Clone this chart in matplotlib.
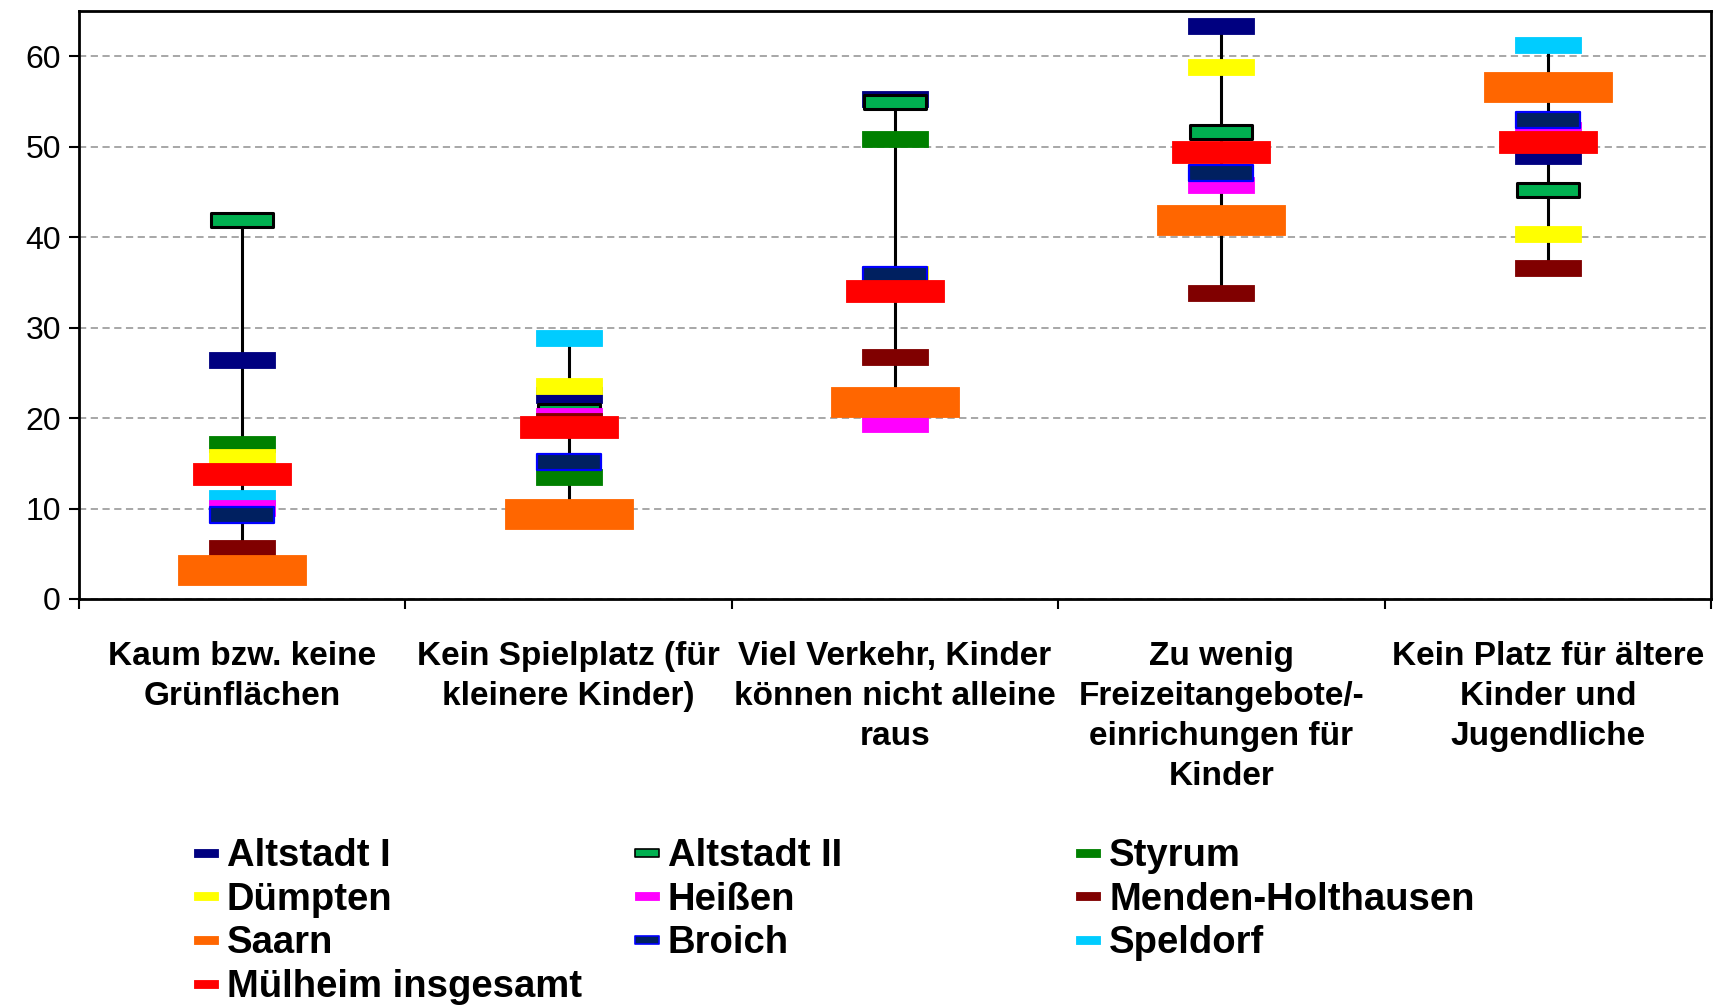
import matplotlib
matplotlib.use("Agg")
import matplotlib.pyplot as plt
import numpy as np
from matplotlib.path import Path
from matplotlib.lines import Line2D

plt.rcParams['font.family'] = ['Liberation Sans', 'DejaVu Sans']

categories = [
    "Kaum bzw. keine\nGrünflächen",
    "Kein Spielplatz (für\nkleinere Kinder)",
    "Viel Verkehr, Kinder\nkönnen nicht alleine\nraus",
    "Zu wenig\nFreizeitangebote/-\neinrichungen für\nKinder",
    "Kein Platz für ältere\nKinder und\nJugendliche",
]

series_names = ["Altstadt I", "Altstadt II", "Styrum", "Dümpten", "Heißen",
                "Menden-Holthausen", "Saarn", "Broich", "Speldorf", "Mülheim insgesamt"]

altstadt_1 = [26.4, 22.5, 55.3, 63.3, 49.0]
altstadt_2 = [41.9, 20.8, 54.9, 51.6, 45.2]
styrum     = [17.1, 13.5, 50.9, 49.3, 50.8]
duempten   = [15.7, 23.5, 35.9, 58.8, 40.4]
heissen    = [10.1, 20.2, 19.4, 45.8, 51.9]
menden     = [5.6, 19.7, 26.8, 33.8, 36.6]
saarn      = [3.2, 9.35, 21.8, 41.9, 56.6]
broich     = [9.3, 15.1, 35.8, 47.1, 52.9]
speldorf   = [11.2, 28.9, 34.2, 49.6, 61.3]
muelheim   = [13.8, 19.05, 34.0, 49.4, 50.5]

yticks = [0, 10, 20, 30, 40, 50, 60]

all_values = [altstadt_1, altstadt_2, styrum, duempten, heissen,
              menden, saarn, broich, speldorf, muelheim]

# styles: (face, edge, edge width, marker width in pt, zorder)
styles = [
    ("#000080", "#000080", 0.6, 47, 3),
    ("#00B050", "#000000", 2.2, 45, 4),
    ("#008000", "#008000", 0.6, 47, 5),
    ("#FFFF00", "#FFFF00", 0.6, 47, 6),
    ("#FF00FF", "#FF00FF", 0.6, 47, 8),
    ("#800000", "#800000", 0.6, 47, 9),
    ("#FF6600", "#FF6600", 0.6, 92, 10),
    ("#002060", "#0000FF", 1.6, 46, 11),
    ("#00CCFF", "#00CCFF", 0.6, 47, 7),
    ("#FF0000", "#FF0000", 0.6, 70, 12),
]

def rect_marker(aspect):
    a = aspect / 2.0
    verts = [(-0.5, -a), (0.5, -a), (0.5, a), (-0.5, a), (-0.5, -a)]
    codes = [Path.MOVETO, Path.LINETO, Path.LINETO, Path.LINETO, Path.CLOSEPOLY]
    return Path(verts, codes)

bar_marker = rect_marker(0.235)
leg_marker = rect_marker(0.3)

fig = plt.figure(figsize=(17.17, 10.05), dpi=100)
ax = fig.add_axes([0.046, 0.404, 0.9505, 0.585])

x = np.arange(len(categories))
data = np.array(all_values)
lows = data.min(axis=0)
highs = data.max(axis=0)
ax.vlines(x, lows, highs, color="black", linewidth=2.2, zorder=2)

for i, (name, vals) in enumerate(zip(series_names, all_values)):
    fc, ec, ew, ms, zo = styles[i]
    ax.plot(x, vals, linestyle="none", marker=bar_marker, markersize=ms,
            markerfacecolor=fc, markeredgecolor=ec, markeredgewidth=ew,
            zorder=zo, label=name)

ax.set_xlim(-0.5, len(categories) - 0.5)
ax.set_ylim(0, 65)
ax.set_yticks(yticks)
ax.set_yticklabels([str(t) for t in yticks], fontsize=23)
ax.set_xticks(np.arange(-0.5, len(categories), 1.0))
ax.set_xticklabels([])
ax.set_xticks(x, minor=True)
ax.set_xticklabels(categories, minor=True, fontsize=24, fontweight="bold",
                   linespacing=1.37, va="top")
ax.tick_params(axis="x", which="minor", length=0, pad=30.5)
ax.tick_params(axis="x", which="major", direction="out", length=7, width=1.5)
ax.tick_params(axis="y", direction="out", length=7, width=1.5, pad=6)

for sp in ax.spines.values():
    sp.set_linewidth(2)

ax.yaxis.grid(True, linestyle=(0, (4, 2.5)), color="#A0A0A0", linewidth=1.3)
ax.set_axisbelow(True)

# Legend in three columns (row-wise order as in the original)
cols = [[0, 3, 6, 9], [1, 4, 7], [2, 5, 8]]
col_x = [0.112, 0.369, 0.626]
for cidx, idxs in enumerate(cols):
    handles = []
    for i in idxs:
        fc, ec, ew, ms, zo = styles[i]
        handles.append(Line2D([], [], linestyle="none", marker=leg_marker, markersize=17,
                              markerfacecolor=fc, markeredgecolor=ec,
                              markeredgewidth=min(ew, 1.2)))
    fig.legend(handles, [series_names[i] for i in idxs], loc="upper left",
               bbox_to_anchor=(col_x[cidx], 0.166), frameon=False,
               prop={"size": 27.5, "weight": "bold"}, handlelength=0.7,
               handletextpad=0.2, labelspacing=0.2, borderpad=0, borderaxespad=0)

fig.savefig("out.png", dpi=100)
